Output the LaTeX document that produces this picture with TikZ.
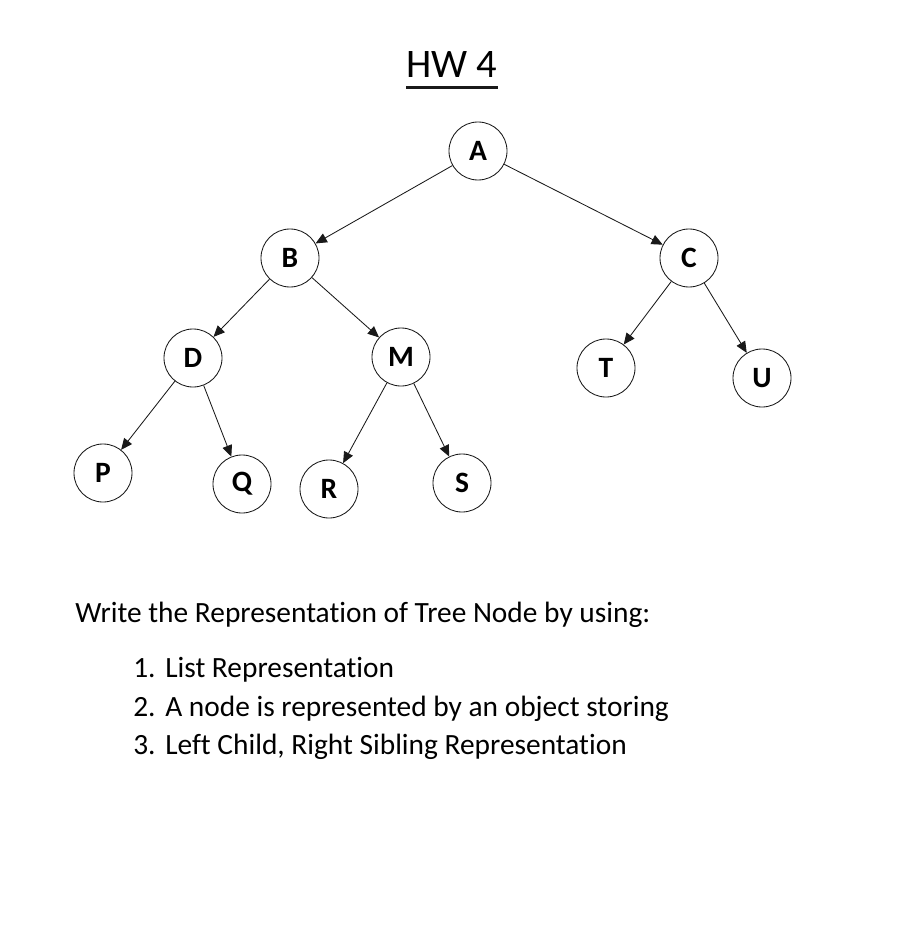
\documentclass[tikz,border=0pt]{standalone}
\usepackage{fontspec}
\setmainfont{Carlito}[Ligatures=NoCommon]
\usepackage{tikz}
\usetikzlibrary{arrows.meta, positioning}
\definecolor{mydark}{RGB}{25,25,25}
\tikzset{
  treenode/.style={circle, draw=mydark, fill=white,
    minimum size=1.45cm, inner sep=0pt,
    font=\fontsize{21}{24}\selectfont\bfseries, line width=0.6pt},
  arrow/.style={-{Triangle[length=8pt, width=7pt]}, line width=0.6pt, color=mydark},
  bodytext/.style={anchor=base west, inner sep=0pt,
    font=\fontsize{20.9}{25}\selectfont}
}

\begin{document}
\begin{tikzpicture}[x=0.025cm, y=-0.025cm]
  \useasboundingbox[fill=white] (0,0) rectangle (905,946);

  % Title
  \node[anchor=base, inner sep=0pt, font=\fontsize{28.8}{32}\selectfont] (title) at (452, 78) {HW 4};
  \draw[line width=2pt, color=mydark] ([yshift=-7pt]title.base west) -- ([yshift=-7pt]title.base east);

  % Tree
  \node[treenode] (a) at (478, 151) {A};
  \node[treenode] (b) at (290, 258) {B};
  \node[treenode] (c) at (689, 258) {C};
  \node[treenode] (d) at (193, 358) {D};
  \node[treenode] (m) at (401, 357) {M};
  \node[treenode] (t) at (606, 368) {T};
  \node[treenode] (u) at (762, 378) {U};
  \node[treenode] (p) at (103, 473) {P};
  \node[treenode] (q) at (242, 484) {Q};
  \node[treenode] (r) at (329, 489) {R};
  \node[treenode] (s) at (462, 483) {S};

  \draw[arrow] (a) -- (b);
  \draw[arrow] (a) -- (c);
  \draw[arrow] (b) -- (d);
  \draw[arrow] (b) -- (m);
  \draw[arrow] (c) -- (t);
  \draw[arrow] (c) -- (u);
  \draw[arrow] (d) -- (p);
  \draw[arrow] (d) -- (q);
  \draw[arrow] (m) -- (r);
  \draw[arrow] (m) -- (s);

  % Question text
  \node[bodytext] (intro) at (75, 622) {Write the Representation of Tree Node by using:};
  \node[bodytext] (n1) at (133, 677) {1.};
  \node[bodytext] (i1) at (165, 677) {List Representation};
  \node[bodytext] (n2) at (133, 716) {2.};
  \node[bodytext] (i2) at (165, 716) {A node is represented by an object storing};
  \node[bodytext] (n3) at (133, 754) {3.};
  \node[bodytext] (i3) at (165, 754) {Left Child, Right Sibling Representation};
\end{tikzpicture}
\end{document}
